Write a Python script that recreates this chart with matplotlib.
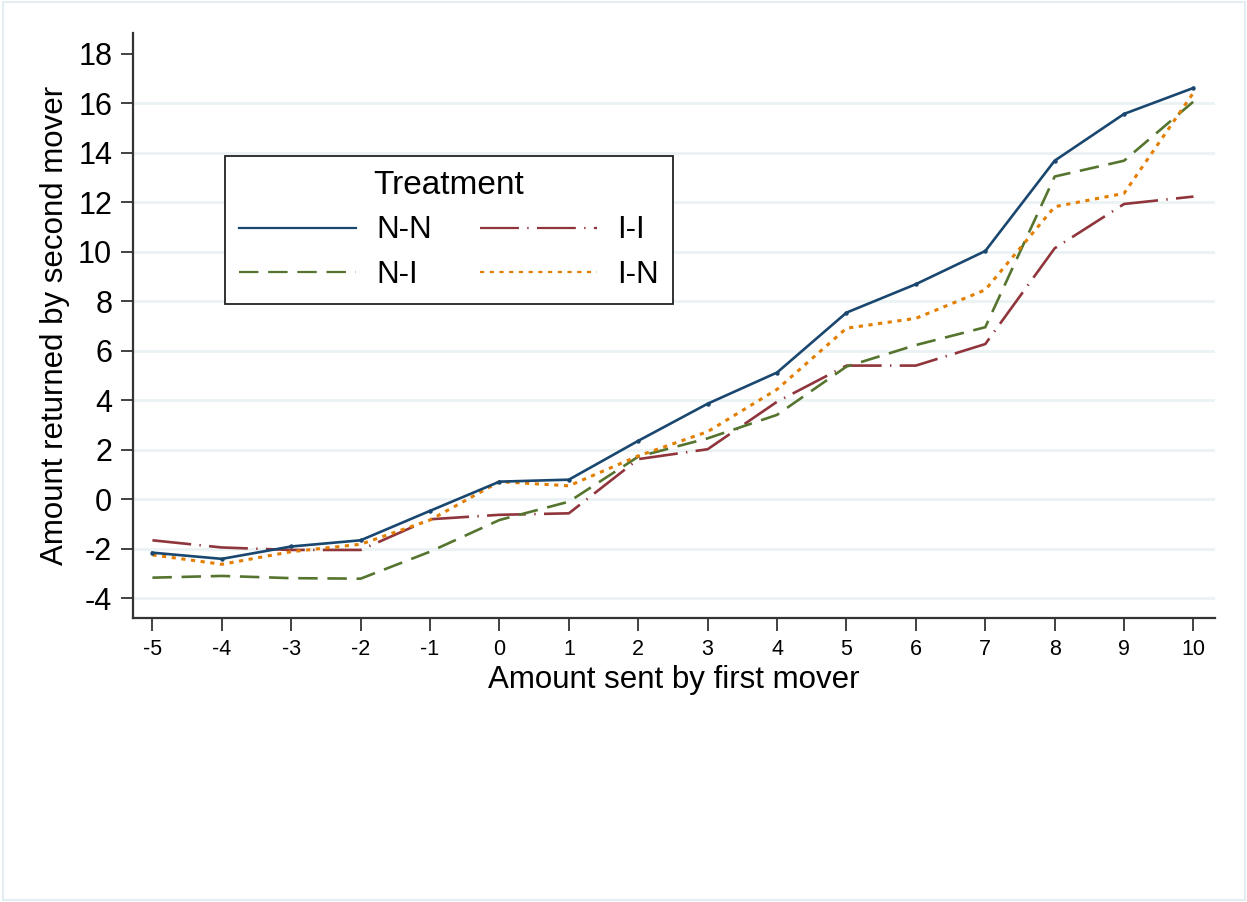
import matplotlib
matplotlib.use("Agg")
import matplotlib.pyplot as plt
from matplotlib.patches import Rectangle

plt.rcParams['font.family'] = ['Liberation Sans', 'DejaVu Sans']
plt.rcParams['lines.scale_dashes'] = False

x_sent = [-5, -4, -3, -2, -1, 0, 1, 2, 3, 4, 5, 6, 7, 8, 9, 10]
nn = [-2.16, -2.41, -1.91, -1.66, -0.47, 0.71, 0.79, 2.36, 3.86, 5.12, 7.54, 8.69, 10.03, 13.68, 15.57, 16.62]
ni = [-3.17, -3.10, -3.19, -3.21, -2.12, -0.84, -0.10, 1.72, 2.46, 3.41, 5.36, 6.23, 6.95, 13.04, 13.68, 16.07]
ii = [-1.66, -1.95, -2.05, -2.05, -0.81, -0.63, -0.57, 1.62, 2.02, 3.94, 5.40, 5.40, 6.27, 10.14, 11.93, 12.23]
in_ = [-2.25, -2.63, -2.12, -1.82, -0.84, 0.71, 0.54, 1.75, 2.73, 4.44, 6.91, 7.31, 8.46, 11.82, 12.36, 16.43]
y_ticks = [-4, -2, 0, 2, 4, 6, 8, 10, 12, 14, 16, 18]
x_ticks = list(range(-5, 11))

W, H = 1247, 902
fig = plt.figure(figsize=(W / 100, H / 100), dpi=100)
fig.patches.append(Rectangle((3 / W, 2 / H), (W - 5) / W, (H - 4) / H, transform=fig.transFigure,
                             fill=False, edgecolor='#e4edf1', linewidth=1.5))
ax = fig.add_axes([133 / W, (H - 618) / H, (1215 - 133) / W, (618 - 33) / H])

lw = 1.9
ax.plot(x_sent, nn, color='#1a476f', lw=lw, ls='-', marker='o', ms=2.2, label='N-N', zorder=5)
ax.plot(x_sent, ni, color='#55752f', lw=lw, dashes=(14, 7), label='N-I', zorder=4)
ax.plot(x_sent, ii, color='#90353b', lw=lw, dashes=(28, 6, 1, 6), label='I-I', zorder=3)
ax.plot(x_sent, in_, color='#e37e00', lw=lw + 0.3, dashes=(3, 4), label='I-N', zorder=4)

ax.set_xlim(-5.28, 10.31)
ax.set_ylim(-4.8, 18.84)
ax.set_yticks(y_ticks)
ax.set_xticks(x_ticks)
ax.set_yticklabels([str(v) for v in y_ticks], fontsize=22)
ax.set_xticklabels([str(v) for v in x_ticks], fontsize=15.5)
for v in y_ticks:
    if v != 18:
        ax.axhline(v, color='#eaf2f3', lw=2, zorder=0)

for s in ['top', 'right']:
    ax.spines[s].set_visible(False)
for s in ['left', 'bottom']:
    ax.spines[s].set_color('#333333')
    ax.spines[s].set_linewidth(1.6)
ax.tick_params(axis='both', direction='out', length=9, width=1.3, color='#333333', pad=6)

ax.set_xlabel('Amount sent by first mover', fontsize=22.5, labelpad=4)
ax.set_ylabel('Amount returned by second mover', fontsize=22.5, labelpad=6)

leg = ax.legend(ncol=2, title='Treatment', fontsize=22.5, title_fontsize=24,
                loc='upper left', bbox_to_anchor=(225 / W, 1 - 156 / H), bbox_transform=fig.transFigure,
                borderaxespad=0,
                frameon=True, fancybox=False, edgecolor='#222222', framealpha=1,
                handlelength=3.75, handletextpad=0.64, columnspacing=1.54, borderpad=0.45,
                labelspacing=0.46)
leg.get_frame().set_linewidth(1.3)
for line in leg.get_lines():
    line.set_marker('')
    line.set_linewidth(1.6)

fig.savefig('out.png', dpi=100, facecolor='white')
